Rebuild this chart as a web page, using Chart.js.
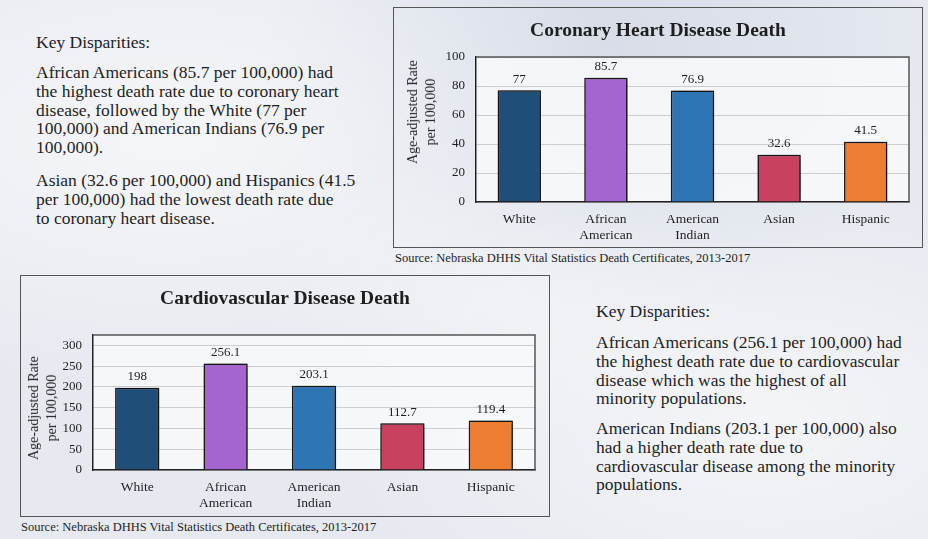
<!DOCTYPE html>
<html>
<head>
<meta charset="utf-8">
<script src="https://cdn.jsdelivr.net/npm/chart.js@4.4.0/dist/chart.umd.min.js"></script>
<style>
  html, body { margin: 0; padding: 0; }
  body {
    width: 928px; height: 539px; overflow: hidden; position: relative;
    background: #e6e9f0;
    background-image:
      radial-gradient(ellipse at 18% 25%, rgba(255,255,255,0.6), rgba(255,255,255,0) 45%),
      radial-gradient(ellipse at 82% 78%, rgba(255,255,255,0.55), rgba(255,255,255,0) 40%),
      radial-gradient(ellipse at 55% 55%, rgba(255,255,255,0.35), rgba(255,255,255,0) 35%),
      radial-gradient(ellipse at 65% 8%, rgba(205,212,226,0.6), rgba(205,212,226,0) 40%);
    font-family: "Liberation Serif", "Times New Roman", serif;
    color: #1e1e1e;
  }
  .txt { position: absolute; font-size: 17.5px; line-height: 18.75px; white-space: nowrap; }
  .frame { position: absolute; border: 1.5px solid #555; box-sizing: border-box; }
  .title { position: absolute; text-align: center; font-weight: bold; font-size: 19.5px; line-height: 22px; }
  .src { position: absolute; font-size: 12.5px; line-height: 14px; white-space: nowrap; }
  .ytitle {
    position: absolute; font-size: 14px; line-height: 18px; text-align: center; white-space: nowrap;
    transform: translate(-50%, -50%) rotate(-90deg);
  }
  canvas { position: absolute; }
</style>
</head>
<body>

<div class="txt" style="left:36px; top:33px;">Key Disparities:</div>
<div class="txt" style="left:36px; top:63px;">African Americans (85.7 per 100,000) had<br>the highest death rate due to coronary heart<br>disease, followed by the White (77 per<br>100,000) and American Indians (76.9 per<br>100,000).</div>
<div class="txt" style="left:36px; top:171px;">Asian (32.6 per 100,000) and Hispanics (41.5<br>per 100,000) had the lowest death rate due<br>to coronary heart disease.</div>

<div class="txt" style="left:596px; top:302px;">Key Disparities:</div>
<div class="txt" style="left:596px; top:333px;">African Americans (256.1 per 100,000) had<br>the highest death rate due to cardiovascular<br>disease which was the highest of all<br>minority populations.</div>
<div class="txt" style="left:596px; top:419px;">American Indians (203.1 per 100,000) also<br>had a higher death rate due to<br>cardiovascular disease among the minority<br>populations.</div>

<!-- coronary chart -->
<div class="frame" style="left:393px; top:7px; width:530px; height:241px;"></div>
<canvas id="chart-coronary" width="530" height="241" style="left:393px; top:7px;"></canvas>
<div class="title" style="left:393px; top:19px; width:530px;">Coronary Heart Disease Death</div>
<div class="ytitle" style="left:422px; top:112px;">Age-adjusted Rate<br>per 100,000</div>
<div class="src" style="left:395px; top:251px;">Source: Nebraska DHHS Vital Statistics Death Certificates, 2013-2017</div>

<!-- cardiovascular chart -->
<div class="frame" style="left:20px; top:275px; width:530px; height:242px;"></div>
<canvas id="chart-cardio" width="530" height="242" style="left:20px; top:275px;"></canvas>
<div class="title" style="left:20px; top:287px; width:530px;">Cardiovascular Disease Death</div>
<div class="ytitle" style="left:43px; top:408px;">Age-adjusted Rate<br>per 100,000</div>
<div class="src" style="left:21px; top:520px;">Source: Nebraska DHHS Vital Statistics Death Certificates, 2013-2017</div>

<script>
// data
const categories = ['White', ['African', 'American'], ['American', 'Indian'], 'Asian', 'Hispanic'];
const barColors = ['#1f4e79', '#a565d1', '#2e75b6', '#c8415f', '#ed7d31'];
const coronaryRates = [77, 85.7, 76.9, 32.6, 41.5];
const cardioRates = [198, 256.1, 203.1, 112.7, 119.4];
const coronaryTicks = [0, 20, 40, 60, 80, 100];
const cardioTicks = [0, 50, 100, 150, 200, 250, 300];

const TXT = '#1e1e1e';
const SERIF = '"Liberation Serif", "Times New Roman", serif';

// light plot background + grey top/right edge
const plotFrame = {
  id: 'plotFrame',
  beforeDraw(chart) {
    const { ctx, chartArea: a } = chart;
    ctx.save();
    ctx.fillStyle = 'rgba(248,249,252,0.85)';
    ctx.fillRect(a.left, a.top, a.right - a.left, a.bottom - a.top);
    ctx.restore();
  },
  beforeDatasetsDraw(chart) {
    const { ctx, chartArea: a } = chart;
    ctx.save();
    ctx.strokeStyle = '#555';
    ctx.lineWidth = 1.5;
    ctx.beginPath();
    ctx.moveTo(a.left, a.top);
    ctx.lineTo(a.right, a.top);
    ctx.lineTo(a.right, a.bottom);
    ctx.stroke();
    ctx.restore();
  }
};

// soft drop shadow behind the bars
const barShadow = {
  id: 'barShadow',
  beforeDatasetDraw(chart) {
    const c = chart.ctx;
    c.save();
    c.shadowColor = 'rgba(0,0,0,0.7)';
    c.shadowBlur = 6;
    c.shadowOffsetX = 1.5;
    c.shadowOffsetY = 1;
  },
  afterDatasetDraw(chart) { chart.ctx.restore(); }
};

// value above each bar
const valueLabels = {
  id: 'valueLabels',
  afterDatasetsDraw(chart) {
    const { ctx } = chart;
    const vals = chart.data.datasets[0].data;
    ctx.save();
    ctx.font = '13px ' + SERIF;
    ctx.fillStyle = TXT;
    ctx.textAlign = 'center';
    ctx.textBaseline = 'middle';
    chart.getDatasetMeta(0).data.forEach((bar, i) => {
      ctx.fillText(String(vals[i]), bar.x, bar.y - 11);
    });
    ctx.restore();
  }
};

function makeChart(id, values, tickList, yMax, lay) {
  return new Chart(document.getElementById(id), {
    type: 'bar',
    data: {
      labels: categories,
      datasets: [{
        data: values,
        backgroundColor: barColors,
        borderColor: '#1a1a1a',
        borderWidth: 1.5,
        categoryPercentage: 1,
        barPercentage: 0.5
      }]
    },
    options: {
      responsive: false,
      animation: false,
      devicePixelRatio: 1,
      layout: { padding: { top: lay.top, right: lay.right, left: 0, bottom: 0 } },
      plugins: { legend: { display: false }, tooltip: { enabled: false } },
      scales: {
        x: {
          grid: { display: false },
          border: { color: '#222', width: 1.5 },
          ticks: {
            color: TXT, maxRotation: 0, autoSkip: false, padding: 1,
            font: { family: SERIF, size: 13.5, lineHeight: 1.2 }
          },
          afterFit(s) { s.height = lay.xh; }
        },
        y: {
          min: 0, max: yMax,
          grid: { color: '#cdcdcd', drawTicks: false },
          border: { color: '#222', width: 1.5 },
          ticks: { color: TXT, padding: 11, font: { family: SERIF, size: 13 } },
          afterBuildTicks(s) { s.ticks = tickList.map(v => ({ value: v })); },
          afterFit(s) { s.width = lay.yw; }
        }
      }
    },
    plugins: [plotFrame, barShadow, valueLabels]
  });
}

makeChart('chart-coronary', coronaryRates, coronaryTicks, 100, { top: 50, right: 14, xh: 46, yw: 83 });
makeChart('chart-cardio', cardioRates, cardioTicks, 325, { top: 60, right: 15, xh: 47, yw: 73 });
</script>
</body>
</html>
